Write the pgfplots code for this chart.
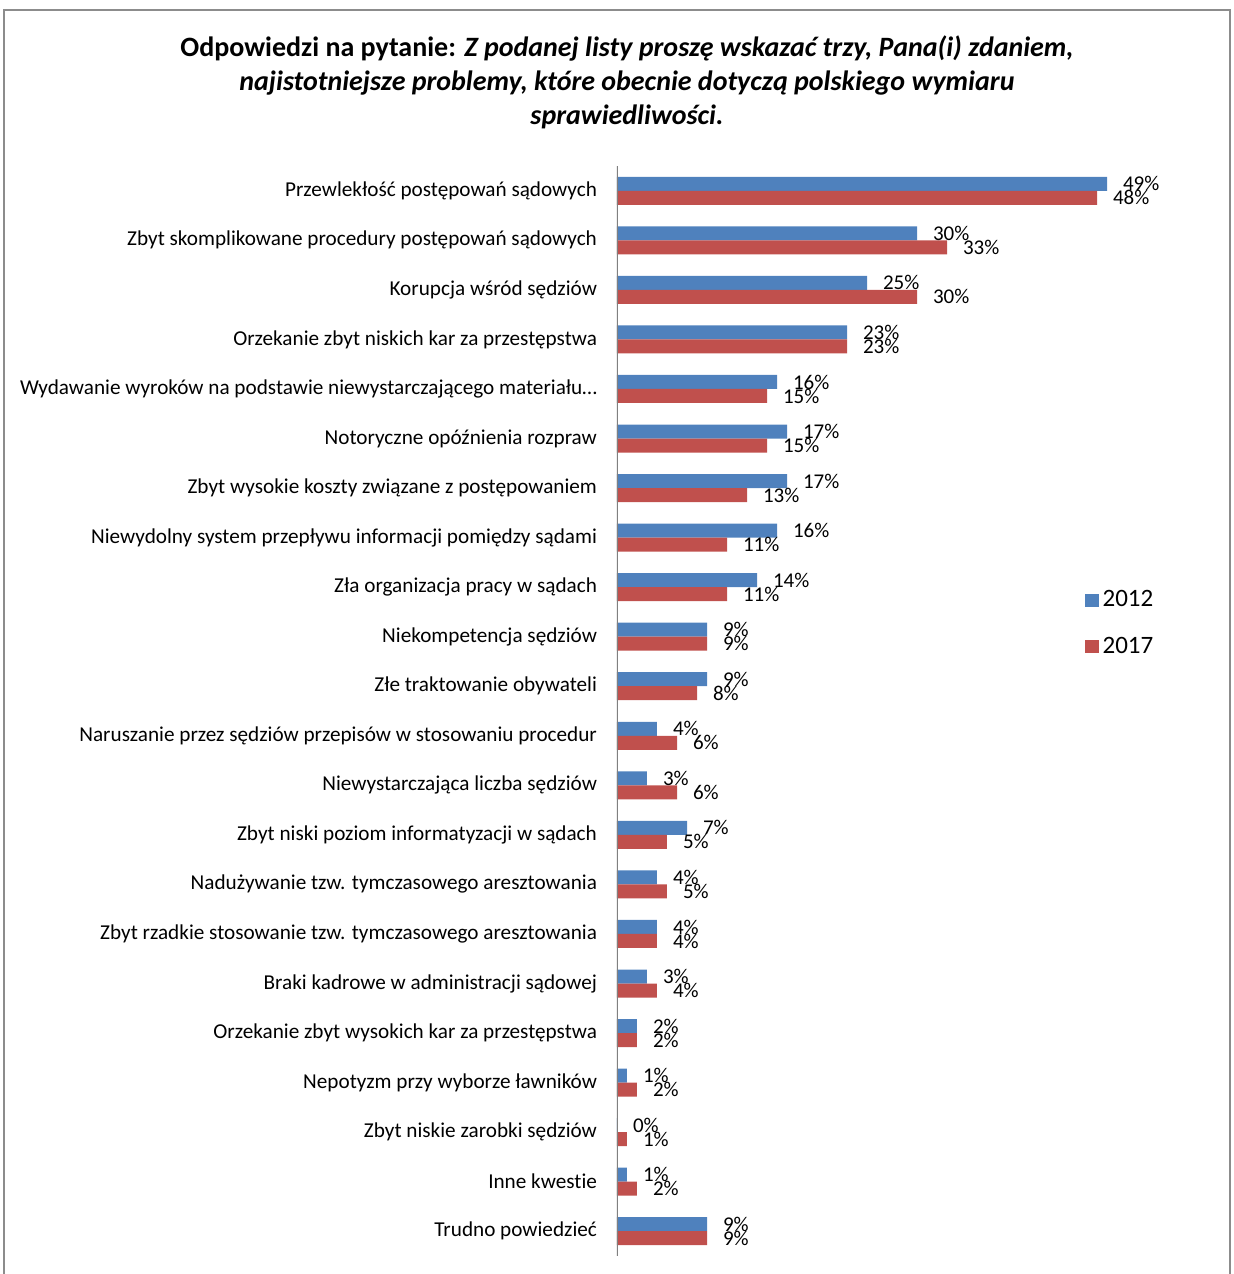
\documentclass[border=0pt]{standalone}
\usepackage{pgfplots}
\pgfplotsset{compat=1.18}
\usepackage{pgfplotstable}
\usepackage{fontspec}
\setmainfont{Carlito}[Ligatures=NoCommon]
\definecolor{c2012}{HTML}{4F81BD}
\definecolor{c2017}{HTML}{C0504D}
\definecolor{frame}{gray}{0.55}

% idx, 2012, 2017 (percent)
\pgfplotstableread{
idx y2012 y2017
0  49 48
1  30 33
2  25 30
3  23 23
4  16 15
5  17 15
6  17 13
7  16 11
8  14 11
9  9  9
10 9  8
11 4  6
12 3  6
13 7  5
14 4  5
15 4  4
16 3  4
17 2  2
18 1  2
19 0  1
20 1  2
21 9  9
}\answers

\begin{document}
\begin{tikzpicture}
% picture frame: 1233 x 1274 px, 1 px = 0.5pt
\useasboundingbox (0,0) rectangle (616.5pt,637pt);
\draw[frame, line width=0.8pt] (2pt,0) -- (2pt,632pt) -- (615pt,632pt) -- (615pt,0);

\node[font=\fontsize{14}{16}\selectfont\bfseries] at (313.5pt,612.5pt)
  {Odpowiedzi na pytanie: \itshape Z podanej listy proszę wskazać trzy, Pana(i) zdaniem,};
\node[font=\fontsize{14}{16}\selectfont\bfseries\itshape] at (313.5pt,595.5pt)
  {najistotniejsze problemy, które obecnie dotyczą polskiego wymiaru};
\node[font=\fontsize{14}{16}\selectfont\bfseries\itshape] at (313.5pt,578.5pt)
  {sprawiedliwości.};

\begin{axis}[
  at={(308.5pt,9pt)}, anchor=south west,
  scale only axis, width=275pt, height=545pt,
  xbar=0pt, bar width=7pt,
  xmin=0, xmax=55,
  ymin=-0.5, ymax=21.5, y dir=reverse,
  axis line style={draw=none},
  xtick=\empty,
  ytick={0,...,21},
  major tick length=0pt,
  yticklabel style={font=\fontsize{10.6}{12}\selectfont, xshift=-6.5pt},
  yticklabels={
    {Przewlekłość postępowań sądowych},
    {Zbyt skomplikowane procedury postępowań sądowych},
    {Korupcja wśród sędziów},
    {Orzekanie zbyt niskich kar za przestępstwa},
    {Wydawanie wyroków na podstawie niewystarczającego materiału…},
    {Notoryczne opóźnienia rozpraw},
    {Zbyt wysokie koszty związane z postępowaniem},
    {Niewydolny system przepływu informacji pomiędzy sądami},
    {Zła organizacja pracy w sądach},
    {Niekompetencja sędziów},
    {Złe traktowanie obywateli},
    {Naruszanie przez sędziów przepisów w stosowaniu procedur},
    {Niewystarczająca liczba sędziów},
    {Zbyt niski poziom informatyzacji w sądach},
    {Nadużywanie tzw. tymczasowego aresztowania},
    {Zbyt rzadkie stosowanie tzw. tymczasowego aresztowania},
    {Braki kadrowe w administracji sądowej},
    {Orzekanie zbyt wysokich kar za przestępstwa},
    {Nepotyzm przy wyborze ławników},
    {Zbyt niskie zarobki sędziów},
    {Inne kwestie},
    {Trudno powiedzieć}},
  point meta=x,
  nodes near coords={\pgfmathprintnumber{\pgfplotspointmeta}\%},
  nodes near coords style={font=\fontsize{10.5}{12}\selectfont, anchor=west, xshift=4.5pt},
  /pgf/number format/assume math mode=true,
  /pgf/number format/precision=0,
  legend style={draw=none, fill=none, font=\fontsize{12.5}{14}\selectfont,
    at={(axis cs:46.2,7.9)}, anchor=north west, row sep=9.5pt,
    /tikz/every even column/.append style={column sep=3.5pt}},
  legend cell align=left,
  legend image code/.code={\fill[#1] (0pt,-3.3pt) rectangle (6.6pt,3.3pt);},
]
\addplot[fill=c2012, draw=none, bar shift=3.5pt] table[x=y2012, y=idx] {\answers};
\addplot[fill=c2017, draw=none, bar shift=-3.5pt] table[x=y2017, y=idx] {\answers};
\legend{2012, 2017}
\draw[gray, line width=0.8pt] (rel axis cs:0,0) -- (rel axis cs:0,1);
\end{axis}
\end{tikzpicture}
\end{document}
